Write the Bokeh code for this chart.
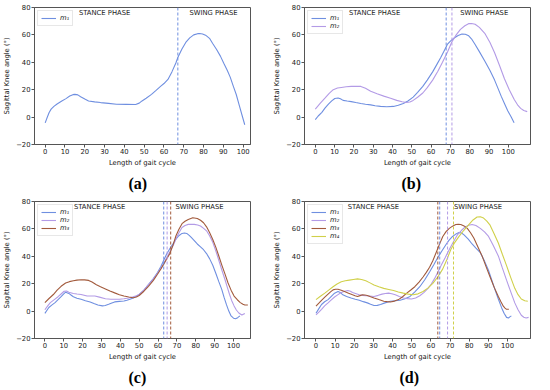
from bokeh.plotting import figure
from bokeh.layouts import gridplot
from bokeh.models import Span, Title, FixedTicker
from bokeh.core.properties import value
from bokeh.embed import file_html
from bokeh.resources import INLINE

# ---------------- data ----------------
x_ticks = [0, 10, 20, 30, 40, 50, 60, 70, 80, 90, 100]
y_ticks = [-20, 0, 20, 40, 60, 80]
series_labels = ["m₁", "m₂", "m₃", "m₄"]
captions = ["(a)", "(b)", "(c)", "(d)"]

# panel (a)
a_m1_x = [0, 1, 2, 3, 4.4, 6, 8.4, 10.5, 12.4, 14, 15, 16.5, 17.9, 20, 21.9, 25, 28, 32, 36, 41,
          45.7, 47.5, 48.9, 51, 53.7, 56, 58.4, 60, 62, 64, 66, 67, 69, 71, 73, 75, 77, 78, 79.5, 81,
          83, 84.6, 86.5, 88.5, 90.2, 92, 93.5, 95, 96.5, 98.1, 99.5, 100.8]
a_m1_y = [-4.2, -0.3, 3.4, 5.8, 7.8, 9.6, 11.8, 13.5, 15.4, 16.4, 16.6, 16.2, 14.9, 13.2, 11.8, 11.1, 10.6, 10, 9.4, 9.3,
          9.2, 10.2, 11.8, 13.8, 16.6, 19.5, 22.6, 24.5, 27.5, 33, 39.5, 43.5, 49.5, 54.5, 57.8, 60, 60.9, 61, 60.7, 59.8,
          57.5, 53.7, 49.5, 44.5, 39.3, 34, 29, 22.6, 16.5, 8.2, 1, -5.6]
a_toe = [67]

# panel (b)
b_m1_x = [0, 1.5, 3.4, 5, 6.8, 8.5, 10.1, 11.8, 13, 14.4, 16.5, 18.6, 21, 23.6, 26, 28.7, 31, 33.8, 37, 40.5,
          43, 45.6, 48, 50.7, 53, 55.7, 58, 60.8, 63, 65, 66.8, 68.4, 70, 71.8, 74, 76, 77.7, 79.5, 81, 82.8,
          85, 87.8, 90.5, 92.9, 94.5, 96.3, 98, 99.7, 101.5, 103]
b_m1_y = [-1.9, 0.8, 3.5, 6.5, 9.4, 11.8, 13.6, 14, 13.4, 12.2, 11.7, 11.3, 10.6, 9.9, 9.4, 8.9, 8.3, 7.8, 7.6, 7.8,
          8.6, 9.9, 11.8, 14.6, 18, 22.4, 27, 33, 38.5, 43.5, 48.5, 53, 55.5, 57.6, 59.5, 60.7, 60.5, 59.3, 57, 53,
          47.8, 41, 34, 27, 21.5, 15.3, 10, 4.7, 0, -4.2]
b_m2_x = [0, 2.5, 5.1, 7.2, 9.3, 11.5, 13.5, 16, 18.6, 21, 23.6, 26, 28.7, 32, 35.5, 39, 42.2, 45, 47.3, 49,
          50.7, 53, 55.7, 58, 60.8, 63.5, 65.9, 68.5, 70.9, 73, 75.2, 77.5, 79.4, 81, 82.8, 85, 87.8, 90.5, 92.9, 95.5,
          98, 100.5, 103, 105, 106.4, 108, 109.8]
b_m2_y = [5.9, 10, 14, 17.3, 20, 21.2, 21.6, 22.1, 22.4, 22.5, 22.4, 21, 18.8, 17, 15.3, 13.7, 12.2, 11.2, 10.6, 11,
          12.2, 14.5, 17.6, 21.5, 27, 33.5, 40, 47.5, 55.3, 60, 64, 66.7, 68.2, 68.3, 67.8, 65.5, 61.2, 54.5, 47, 37.5,
          28, 20, 13, 8.5, 6.4, 4.8, 4]
b_toe = [67.8, 70.8]

# panel (c)
c_m1_x = [0, 2.1, 3.8, 5.4, 7, 8.6, 10, 11, 12.7, 14, 15.1, 17, 19.2, 21.5, 24, 26, 28.1, 30.5, 32, 33.8,
          35.5, 37, 39.5, 41.9, 43.5, 45.1, 47.5, 50, 52.5, 54.9, 57.5, 59.7, 61.5, 63, 64.5, 66.2, 68, 69.5, 71, 72.7,
          74, 75.2, 76.5, 77.6, 79.2, 80.8, 82.5, 84.1, 85.7, 87.3, 89, 90.6, 92.2, 93.8, 95, 96.3, 97.5, 98.7, 100, 101.1,
          102.2, 103.4]
c_m1_y = [-1.7, 2.6, 4.5, 6.2, 8.4, 10.5, 12.5, 13.8, 12.9, 11.6, 10.5, 9.4, 8.6, 7.6, 6.7, 5.6, 4.5, 3.8, 4.1, 5,
          5.9, 6.7, 7.1, 7.4, 7.9, 8.6, 10, 12.1, 15.3, 19.3, 23.8, 28.1, 32.5, 37.1, 41.5, 45.5, 49.3, 52.6, 55, 56.7,
          57, 56.7, 55.3, 53.8, 51.4, 49, 46.9, 44.8, 42, 38.3, 33.5, 27.6, 21.5, 15.7, 10, 4.5, 0, -3.5, -5.2, -5.6,
          -4.8, -3.5]
c_m2_x = [0, 1.5, 2.9, 5, 7, 8.6, 10.2, 11.5, 12.7, 15.1, 17, 19.2, 22.4, 24.5, 26.5, 28.9, 32.1, 35, 37, 39.5,
          41.9, 44.5, 46.8, 48.5, 50, 52.5, 54.9, 57.5, 59.7, 61.5, 63, 64.5, 66.2, 68, 69.5, 71, 72.7, 74.3, 76, 77.5,
          79.2, 81, 82.5, 84, 85.7, 87.3, 89, 90.6, 92.2, 93.8, 95.5, 96.8, 97.9, 99, 100.3, 101.5, 102.8, 104.4, 106]
c_m2_y = [1, 3.8, 6.2, 8.4, 10.5, 12.5, 14.5, 14.6, 13.8, 12.9, 12.5, 12.1, 11, 11, 11, 10.2, 9, 8.7, 8.6, 8.7,
          9, 9.6, 10.5, 11.2, 12.1, 15.3, 19.3, 23.3, 27.6, 31.3, 34.8, 38.7, 43.1, 47.8, 52.6, 57, 61, 62.5, 63.3, 63.4,
          63.3, 62.8, 62.1, 60.6, 58.6, 55, 50.2, 44, 37.1, 30, 22.9, 17, 12.1, 7.8, 3.8, 0.8, -1.4, -2.9, -1.7]
c_m3_x = [0, 2.2, 4.5, 6.5, 8.6, 11, 13, 15.1, 17, 19.2, 21, 23.2, 25, 27.3, 29.5, 32.1, 34.5, 37, 39.5, 41.9,
          44.5, 46.8, 48.5, 50, 52.5, 54.9, 57.5, 59.7, 61.5, 63, 64.5, 66.2, 68, 69.5, 71, 72.7, 74.3, 76, 78.4, 80.8,
          82.5, 84.1, 85.7, 87.3, 89, 90.6, 92.2, 93.8, 95.5, 97.1, 98.7, 100.3, 102, 103.6, 105, 106, 107.6]
c_m3_y = [6.2, 9.2, 12.1, 15.3, 18.1, 20.5, 21.5, 22.1, 22.6, 22.9, 22.8, 22.4, 21.2, 19.3, 17.8, 16.2, 14.7, 13.3, 12, 11,
          10.3, 9.8, 10.3, 11.4, 14.5, 18.1, 22.4, 26.9, 30.7, 34.3, 37.8, 41.9, 48.5, 55, 59.5, 63.8, 65.6, 66.9, 68.1, 67.6,
          66.3, 64.5, 61.5, 57.4, 52.3, 46.7, 40.2, 33.6, 27, 20.5, 15.3, 11, 8.3, 6.2, 5, 4.5, 4.5]
c_toe = [63, 64.8, 66.7]

# panel (d)
d_m1_x = [0, 1.5, 2.9, 4.5, 6.3, 8, 9.7, 11.5, 12.7, 14, 16, 18.3, 20.5, 22.6, 24.7, 26.8, 28.5, 30.3, 32, 33.7,
          36, 38.8, 41.5, 43.9, 46.5, 49.1, 51.5, 54.2, 56.8, 59.3, 61.5, 63.6, 65.8, 67.9, 69.5, 71.3, 73, 74.7, 76, 77.3,
          79.5, 81.5, 83.5, 85.8, 88, 90.1, 91.8, 93.5, 95.2, 96.9, 98.2, 99.5, 100.5, 101.2, 102]
d_m1_y = [-1.6, 1.8, 4.8, 6.8, 8.4, 10.8, 13.1, 14.3, 13.6, 11.9, 10.6, 9.6, 8.7, 7.9, 6.9, 6, 5, 4.1, 4.2, 4.8,
          6, 7.2, 7.6, 7.9, 9, 10.7, 13.8, 17.8, 22.9, 28.5, 33.8, 39.1, 44, 48.6, 51.8, 54.5, 56.2, 57.3, 57, 55.6,
          52.5, 49, 46, 42.6, 36.5, 29.6, 22.5, 15.5, 8.8, 2.5, -1.5, -4.6, -5, -4.2, -3.5]
d_m2_x = [0, 1.5, 2.9, 4.5, 6.3, 8, 9.7, 11.5, 13.2, 15, 16.6, 18, 19.1, 21, 22.6, 24.3, 26, 28, 30.3, 32.5,
          34.5, 36.2, 37.9, 39.6, 41.4, 43.5, 45.6, 47.8, 49.9, 52, 54.2, 56.3, 58.5, 60.2, 61.9, 63.6, 65.3, 67.5, 69.6, 71.7,
          73.8, 76, 78.1, 79.8, 81.5, 83.5, 85.8, 88, 90.1, 92.5, 95.2, 97.3, 99.5, 101.7, 103.8, 105.5, 107.2, 108.5, 109.7, 111]
d_m2_y = [-2.7, -0.8, 1.3, 3.8, 6, 8.2, 10.3, 12, 13.6, 14.5, 15, 14.5, 13.6, 12.7, 11.9, 11.5, 11.2, 11, 10.7, 11.5,
          12.4, 12.9, 13.1, 12.7, 11.9, 10.7, 9.6, 9.1, 8.8, 9.6, 11.2, 13.5, 16.6, 19.8, 23.7, 28.3, 33.2, 39.2, 45, 50.5,
          55.6, 59, 61.6, 62.6, 63.2, 62.5, 60.4, 57.8, 54.5, 48, 40.3, 31.5, 22.6, 14, 6, 1, -3, -4.5, -5.1, -4.6]
d_m3_x = [0, 1.5, 2.9, 4.6, 6.3, 7.6, 8.9, 10.2, 11.5, 13.2, 14.9, 17, 19.1, 20.4, 21.7, 23, 24.3, 25.5, 26.8, 28.5,
          30.3, 32.8, 35.4, 37.1, 38.8, 41, 43.1, 45.2, 47.4, 49.5, 51.6, 53.8, 55.9, 57.6, 59.3, 61, 62.7, 64.4, 66.2, 67.9,
          69.6, 71.3, 73, 74.3, 75.6, 77.3, 79, 80.7, 82.4, 84.5, 86.7, 88.8, 90.9, 93, 95.2, 96.5, 97.8, 98.7, 99.5, 100.7]
d_m3_y = [3.6, 5.8, 7.9, 10.2, 12.4, 14, 15.5, 15.9, 15.9, 15.2, 14.3, 13.1, 11.9, 11.2, 10.7, 11.3, 11.9, 11.7, 11.4, 10.5,
          9.6, 8.4, 7.2, 6.9, 6.7, 7.3, 8.4, 10.5, 13.1, 15.4, 17.8, 21.2, 24.9, 28.3, 32, 36.8, 42.6, 48.5, 54.5, 58,
          60.4, 62, 63.2, 63.4, 63.2, 62.2, 60.4, 57.2, 53.3, 47, 40.3, 32.5, 24.9, 17.5, 10.7, 7, 3.6, 2.2, 1.3, 1.3]
d_m4_x = [0, 2.3, 4.6, 6.8, 8.9, 11, 13.2, 15.3, 17.4, 19.5, 21.7, 23.8, 26, 28.2, 30.3, 32.8, 35.4, 38, 40.5, 43,
          45.6, 48.2, 50.8, 53.3, 55.9, 58.4, 61, 63.6, 66.2, 68.3, 70.4, 72.5, 74.7, 77.2, 79.8, 82, 84.1, 85.8, 87.5, 89.2,
          90.9, 93, 95.2, 97.3, 99.5, 101.6, 103.8, 105.5, 107.2, 109, 110.6]
d_m4_y = [8.4, 10.8, 13.1, 15.5, 17.8, 19.8, 21.4, 22.1, 22.6, 23.1, 23.5, 23.1, 22.1, 20.6, 19, 17.8, 16.6, 15.8, 15, 14,
          13.1, 12.4, 11.9, 12.6, 14.3, 16.8, 20.2, 24.9, 30.8, 37.5, 45, 50.2, 54.5, 59, 63.2, 66.5, 68.7, 68.8, 67.9, 65.7,
          62.7, 56.5, 49.7, 41.5, 33.2, 24.8, 16.6, 12, 8.8, 7.5, 7.2]
d_toe = [64.6, 68.7, 63.6, 71.8]

# ---------------- styles ----------------
COLORS = ["#6f8fe0", "#b39be6", "#a25a3c", "#d0d04a"]
FONT = "DejaVu Sans"
FS = "6.8px"
WL, WR, H = 270, 271, 194


def make_panel(series, toes, xr, width, borders, caption, stance_x, swing_x, cap_offset):
    left, right, top, bottom = borders
    p = figure(width=width, height=H, x_range=xr, y_range=(-20, 80),
               output_backend="svg", toolbar_location=None,
               min_border_left=left, min_border_right=right,
               min_border_top=top, min_border_bottom=bottom)
    p.xgrid.visible = False
    p.ygrid.visible = False
    p.outline_line_color = "#555555"
    p.outline_line_width = 1
    p.background_fill_color = "white"
    p.border_fill_color = "white"

    for i, (xs, ys) in enumerate(series):
        p.line(xs, ys, line_color=COLORS[i], line_width=1.1, legend_label=series_labels[i])
    for i, t in enumerate(toes):
        p.add_layout(Span(location=t, dimension="height", line_color=COLORS[i],
                          line_width=1, line_dash="3 2"))

    p.text(x=[stance_x, swing_x], y=[76.2, 76.2], text=["STANCE PHASE", "SWING PHASE"],
           text_align="center", text_baseline="middle",
           text_font=value(FONT), text_font_size=value(FS), text_color="#1a1a1a")

    p.xaxis.ticker = FixedTicker(ticks=x_ticks)
    p.yaxis.ticker = FixedTicker(ticks=y_ticks)
    p.yaxis.major_label_overrides = {-20: "−20"}
    for ax in (p.xaxis[0], p.yaxis[0]):
        ax.axis_line_color = "#555555"
        ax.major_tick_line_color = "#555555"
        ax.major_tick_in = 0
        ax.major_tick_out = 3
        ax.minor_tick_line_color = None
        ax.major_label_text_font = FONT
        ax.major_label_text_font_size = FS
        ax.major_label_text_color = "#222222"
        ax.major_label_standoff = 1
        ax.axis_label_text_font = FONT
        ax.axis_label_text_font_size = FS
        ax.axis_label_text_font_style = "normal"
        ax.axis_label_text_color = "#111111"
        ax.axis_label_standoff = 2
    p.xaxis.axis_label = "Length of gait cycle"
    p.yaxis.axis_label = "Sagittal Knee angle (°)"

    lg = p.legend[0]
    lg.location = "top_left"
    lg.margin = 3
    lg.padding = 3
    lg.spacing = 0
    lg.label_height = 8
    lg.label_width = 8
    lg.glyph_height = 8
    lg.glyph_width = 15
    lg.label_standoff = 4
    lg.label_text_font = FONT
    lg.label_text_font_size = FS
    lg.label_text_font_style = "italic"
    lg.label_text_color = "#222222"
    lg.border_line_color = "#d0d0d0"
    lg.border_line_width = 1
    lg.background_fill_alpha = 0.85

    p.add_layout(Title(text=caption, align="left", offset=cap_offset,
                       text_font="Liberation Serif", text_font_style="bold",
                       text_font_size="16px", text_color="black", standoff=6), "below")
    return p


pa = make_panel([(a_m1_x, a_m1_y)], a_toe, (-5.4, 103.7), WL, (27, 20, 7, 49),
                captions[0], 30, 85, 94)
pb = make_panel([(b_m1_x, b_m1_y), (b_m2_x, b_m2_y)], b_toe, (-5.6, 111.5), WR, (29, 11, 7, 47),
                captions[1], 30.7, 87.5, 97)
pc = make_panel([(c_m1_x, c_m1_y), (c_m2_x, c_m2_y), (c_m3_x, c_m3_y)], c_toe, (-5.5, 109), WL,
                (27, 14, 7, 48), captions[2], 29, 82, 94)
pd = make_panel([(d_m1_x, d_m1_y), (d_m2_x, d_m2_y), (d_m3_x, d_m3_y), (d_m4_x, d_m4_y)], d_toe,
                (-6, 112), WR, (30, 11, 6, 48), captions[3], 30, 84.6, 95)

grid = gridplot([[pa, pb], [pc, pd]], toolbar_location=None)

open("out.html", "w").write(file_html(grid, INLINE))
